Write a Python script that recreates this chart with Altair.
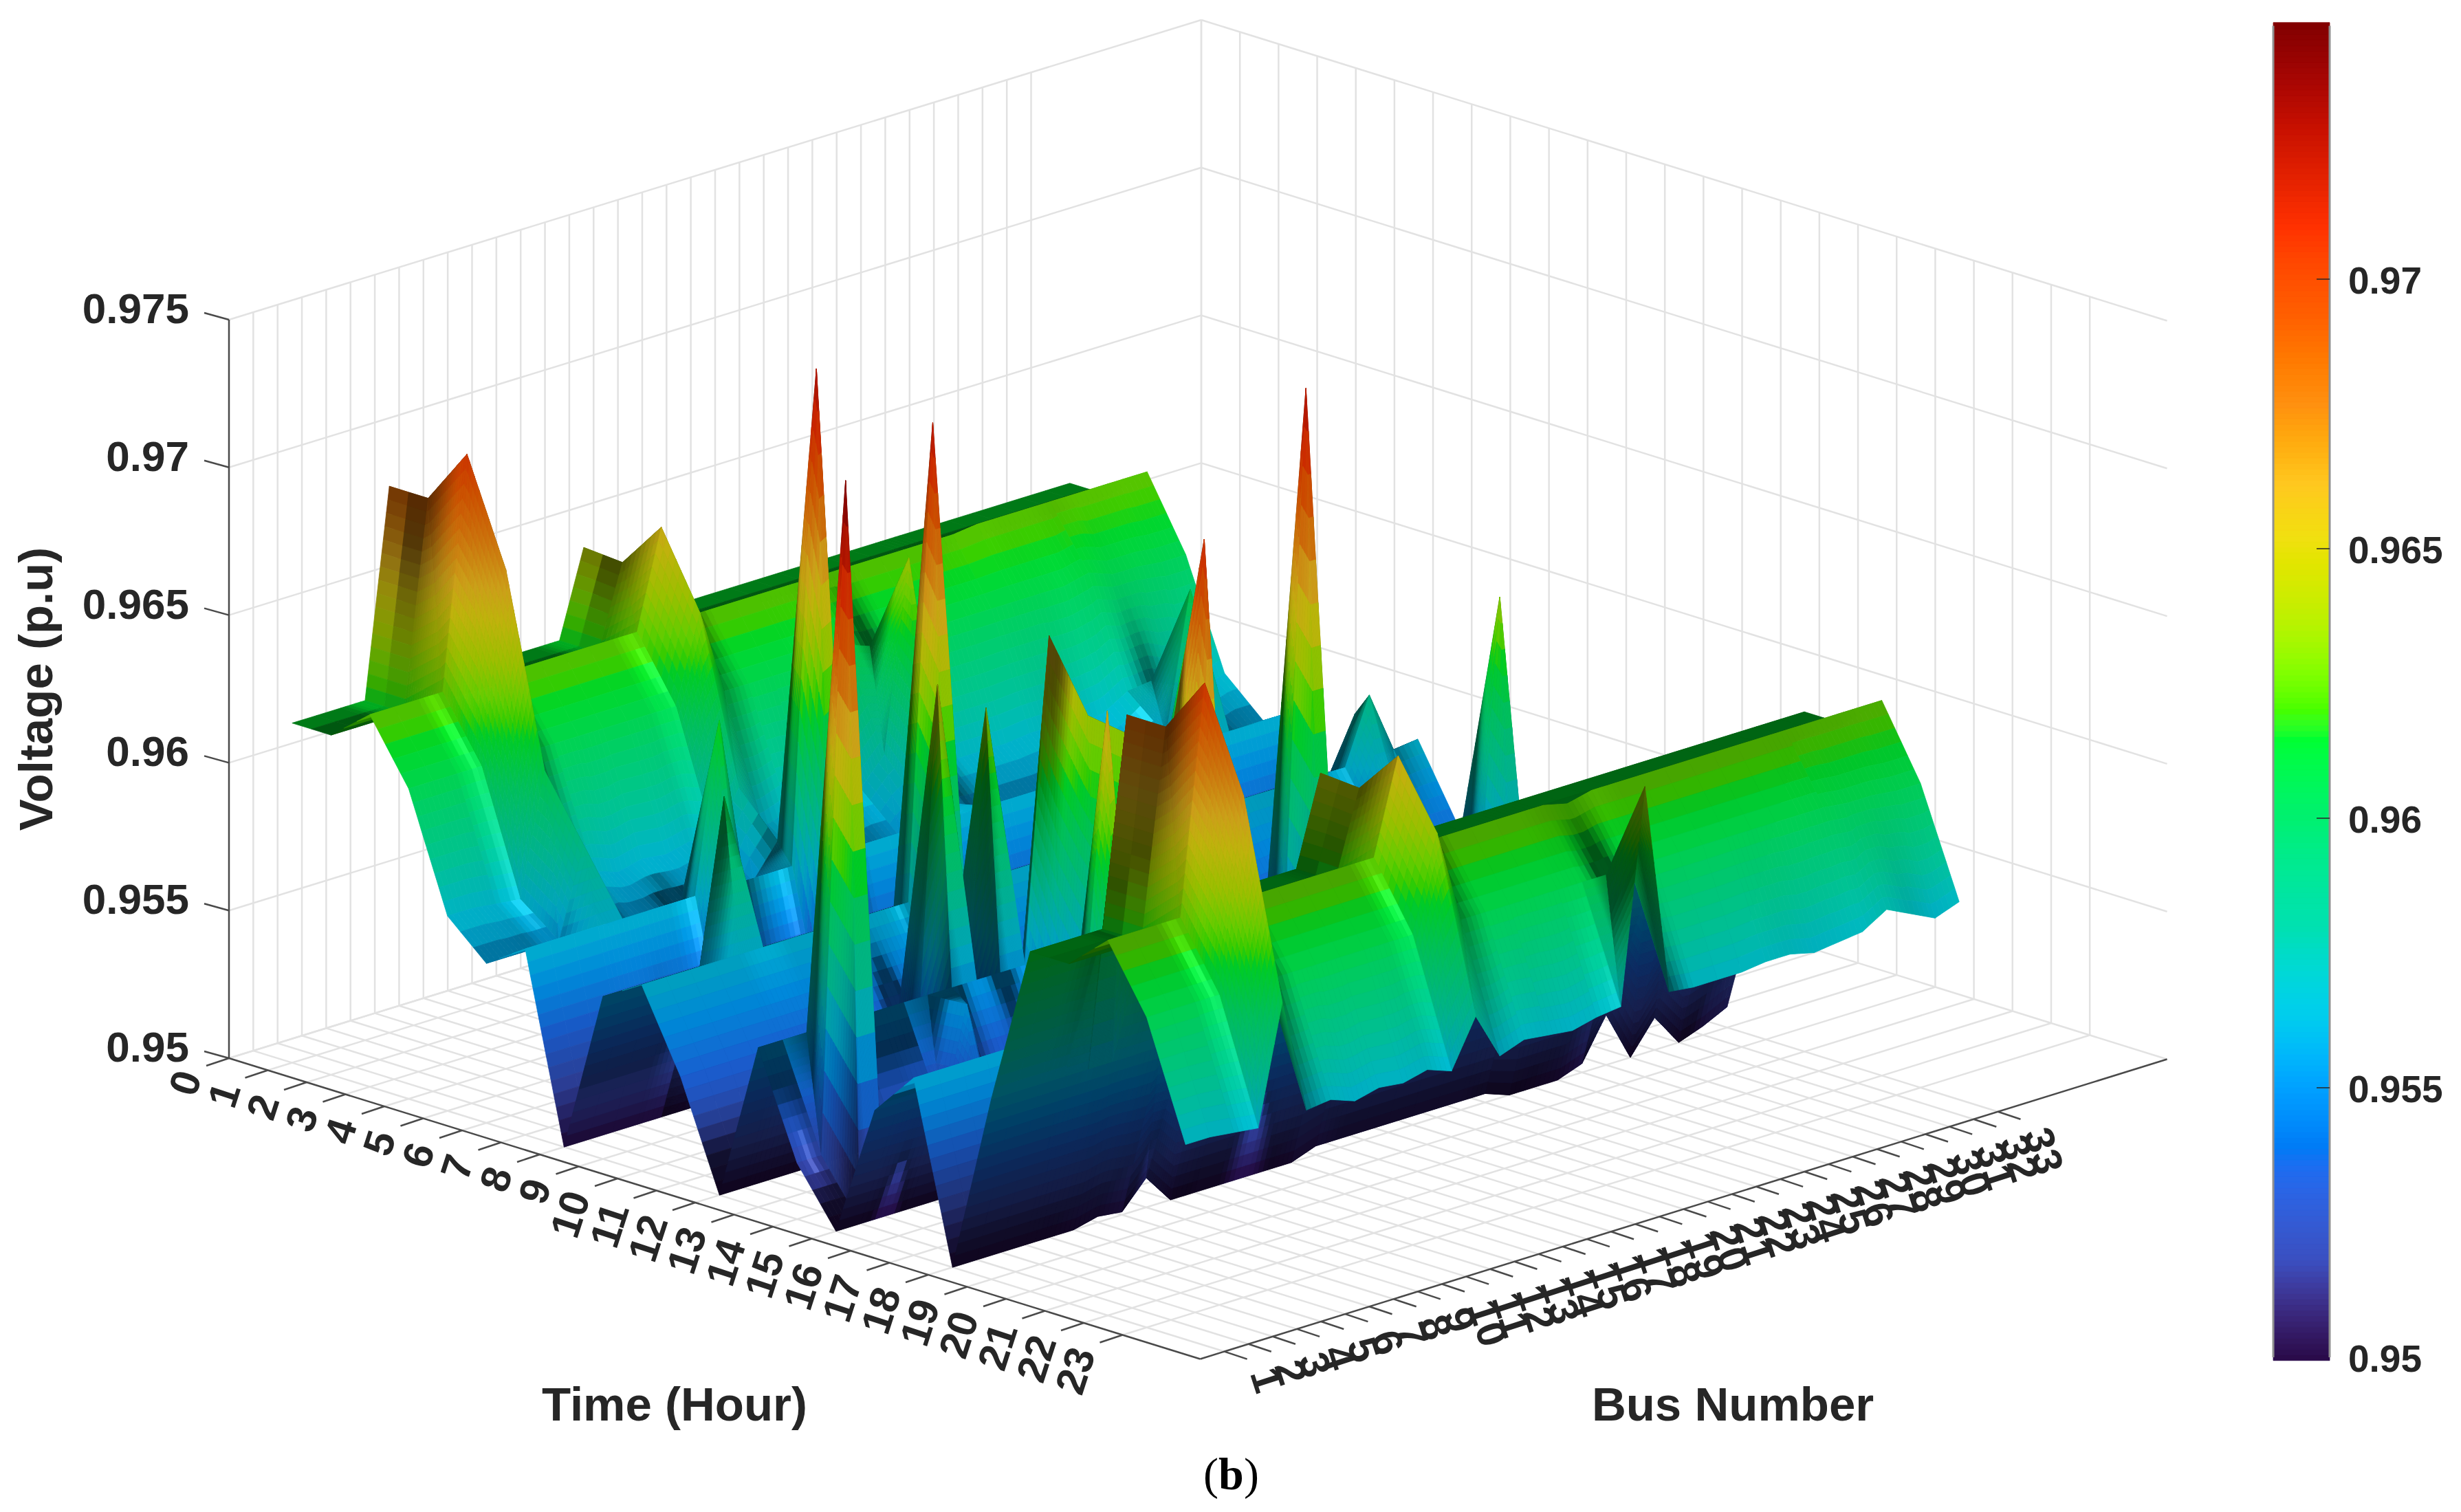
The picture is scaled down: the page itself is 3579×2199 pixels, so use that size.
import altair as alt
import numpy as np
import pandas as pd

alt.data_transformers.disable_max_rows()

# Voltage (p.u) per hour row (24 rows), bus 1..33 columns
V01 = [.9615,.9615,.9615,.9615,.9685,.9615,.9615,.9615,.9615,.9615,.9615,.9615,.9644,.9615,.9615,.9615,.9615,.9615,.9615,.9615,.9615,.9615,.9615,.9615,.9615,.9615,.9615,.9615,.9615,.9615,.9615,.9615,.9615]
V02 = [.9615,.9615,.9615,.9615,.9685,.9615,.9615,.9615,.9615,.9615,.9615,.9615,.9643,.9615,.9615,.9615,.9615,.9615,.9615,.9615,.9615,.9615,.9615,.9615,.9615,.9615,.9615,.9615,.9615,.9615,.9615,.9615,.9615]
V03 = [.9626,.9626,.9626,.9626,.9704,.9626,.9626,.9626,.9626,.9626,.9626,.9626,.9659,.9626,.9626,.9626,.9626,.9626,.9626,.9626,.9626,.9626,.9626,.9626,.9626,.9627,.9627,.9627,.9627,.9627,.9627,.9627,.9627]
V04 = [.9605,.9605,.9605,.9605,.9669,.9605,.9605,.9605,.9605,.9605,.9605,.9605,.9634,.9605,.9605,.9605,.9605,.9605,.9608,.9605,.9605,.9605,.9605,.9605,.9605,.9605,.9605,.9605,.9607,.9604,.9604,.9603,.9603]
V05 = [.9566,.9566,.9565,.9564,.9605,.9565,.9566,.9563,.9565,.9564,.9566,.9563,.9579,.9563,.9566,.9565,.9564,.9566,.9575,.9639,.9567,.9566,.9566,.9566,.9567,.9567,.9565,.9566,.9571,.9572,.9568,.9564,.9567]
V06 = [.9554,.9554,.9554,.9554,.9584,.9554,.9554,.9554,.9554,.9554,.9554,.9554,.9565,.9554,.9554,.9554,.9554,.9554,.9560,.9560,.9554,.9554,.9554,.9554,.9554,.9554,.9554,.9554,.9560,.9607,.9555,.9555,.9555]
V07 = [.9563,.9563,.9563,.9563,.9563,.9563,.9563,.9563,.9620,.9563,.9563,.9563,.9729,.9563,.9563,.9563,.9563,.9563,.9563,.9563,.9563,.9563,.9563,.9563,.9563,.9563,.9563,.9563,.9563,.9563,.9563,.9563,.9563]
V08 = [.9500,.9500,.9500,.9500,.9500,.9500,.9500,.9500,.9502,.9500,.9500,.9500,.9505,.9500,.9500,.9500,.9500,.9500,.9500,.9500,.9500,.9500,.9500,.9500,.9500,.9500,.9500,.9500,.9500,.9500,.9500,.9500,.9500]
V09 = [.9555,.9555,.9555,.9555,.9555,.9610,.9555,.9555,.9555,.9555,.9555,.9555,.9555,.9555,.9555,.9555,.9555,.9555,.9555,.9555,.9555,.9555,.9555,.9555,.9555,.9555,.9555,.9555,.9555,.9555,.9555,.9572,.9555]
V10 = [.9563,.9563,.9563,.9563,.9563,.9563,.9563,.9563,.9563,.9563,.9563,.9563,.9723,.9563,.9563,.9563,.9563,.9563,.9563,.9563,.9563,.9563,.9563,.9563,.9563,.9563,.9563,.9563,.9563,.9563,.9585,.9564,.9565]
V11 = [.9536,.9536,.9536,.9536,.9536,.9536,.9536,.9536,.9536,.9536,.9536,.9536,.9536,.9536,.9536,.9536,.9536,.9536,.9536,.9536,.9536,.9635,.9536,.9537,.9538,.9539,.9540,.9540,.9541,.9541,.9541,.9541,.9541]
V12 = [.9500,.9500,.9500,.9500,.9500,.9500,.9500,.9500,.9500,.9650,.9500,.9637,.9500,.9500,.9500,.9500,.9500,.9500,.9500,.9500,.9500,.9500,.9500,.9500,.9500,.9500,.9500,.9500,.9500,.9500,.9500,.9500,.9500]
V13 = [.9554,.9554,.9554,.9554,.9554,.9554,.9554,.9554,.9554,.9554,.9554,.9554,.9663,.9554,.9554,.9554,.9554,.9554,.9554,.9554,.9554,.9554,.9554,.9554,.9554,.9554,.9554,.9554,.9554,.9554,.9554,.9554,.9554]
V14 = [.9519,.9519,.9745,.9519,.9519,.9519,.9519,.9555,.9519,.9519,.9519,.9519,.9640,.9519,.9519,.9519,.9519,.9519,.9519,.9519,.9519,.9728,.9519,.9519,.9519,.9519,.9519,.9519,.9519,.9637,.9519,.9519,.9519]
V15 = [.9500,.9500,.9500,.9500,.9500,.9500,.9500,.9500,.9500,.9500,.9500,.9500,.9638,.9500,.9500,.9500,.9500,.9500,.9500,.9500,.9500,.9500,.9500,.9500,.9500,.9500,.9500,.9500,.9500,.9500,.9500,.9500,.9500]
V16 = [.9545,.9545,.9545,.9545,.9545,.9545,.9545,.9545,.9545,.9545,.9545,.9545,.9630,.9545,.9545,.9545,.9545,.9545,.9545,.9545,.9545,.9545,.9545,.9545,.9545,.9545,.9545,.9545,.9545,.9545,.9545,.9545,.9545]
V17 = [.9560,.9560,.9560,.9560,.9560,.9560,.9560,.9560,.9664,.9560,.9560,.9560,.9712,.9560,.9560,.9560,.9560,.9560,.9560,.9560,.9560,.9560,.9560,.9560,.9560,.9560,.9560,.9560,.9560,.9560,.9560,.9560,.9560]
V18 = [.9500,.9500,.9500,.9500,.9500,.9500,.9502,.9501,.9510,.9500,.9500,.9500,.9500,.9500,.9500,.9503,.9503,.9503,.9503,.9503,.9503,.9503,.9503,.9500,.9500,.9500,.9503,.9517,.9500,.9511,.9500,.9503,.9507]
V19 = [.9561,.9561,.9561,.9561,.9561,.9561,.9561,.9561,.9561,.9561,.9561,.9561,.9561,.9561,.9561,.9561,.9561,.9561,.9561,.9561,.9561,.9561,.9561,.9561,.9561,.9561,.9561,.9561,.9561,.9561,.9561,.9561,.9561]
V20 = [.9615,.9615,.9615,.9615,.9685,.9615,.9615,.9615,.9615,.9615,.9615,.9615,.9645,.9615,.9615,.9615,.9615,.9615,.9615,.9615,.9615,.9615,.9615,.9615,.9615,.9615,.9615,.9615,.9615,.9615,.9615,.9615,.9615]
V21 = [.9615,.9615,.9615,.9615,.9685,.9615,.9615,.9615,.9615,.9615,.9615,.9615,.9644,.9615,.9615,.9615,.9615,.9615,.9615,.9615,.9615,.9615,.9615,.9615,.9615,.9615,.9615,.9615,.9615,.9615,.9615,.9615,.9615]
V22 = [.9627,.9627,.9627,.9627,.9704,.9627,.9627,.9627,.9627,.9627,.9627,.9627,.9659,.9627,.9627,.9627,.9627,.9627,.9627,.9625,.9627,.9627,.9627,.9627,.9627,.9627,.9627,.9627,.9627,.9627,.9627,.9627,.9627]
V23 = [.9605,.9605,.9605,.9605,.9670,.9605,.9605,.9605,.9605,.9605,.9605,.9605,.9637,.9605,.9605,.9605,.9605,.9605,.9605,.9605,.9605,.9605,.9605,.9605,.9605,.9605,.9605,.9605,.9605,.9604,.9604,.9603,.9603]
V24 = [.9566,.9566,.9565,.9564,.9604,.9565,.9566,.9563,.9565,.9564,.9566,.9563,.9579,.9563,.9566,.9565,.9564,.9566,.9567,.9639,.9567,.9566,.9566,.9566,.9567,.9567,.9565,.9566,.9567,.9572,.9568,.9564,.9567]

ROWS = [V01,V02,V03,V04,V05,V06,V07,V08,V09,V10,V11,V12,V13,V14,V15,V16,V17,V18,V19,V20,V21,V22,V23,V24]

CMAP_Z = [.95,.9518,.9535,.955,.9563,.958,.96,.9615,.9620,.9627,.9638,.9652,.9662,.9677,.9693,.971,.9728,.9748]
CMAP_C = ["#2a0b4a","#3a4fc0","#1e6cf0","#00a0ff","#00ccee","#00e0b0","#00f070","#00ff30","#44ff00","#80ff00","#c0f000","#f0e010","#ffc820","#ff9010","#ff6000","#ff3000","#c81000","#800000"]

Z_TICKS = [0.95,0.955,0.96,0.965,0.97,0.975]
Z_LABELS = ["0.95","0.955","0.96","0.965","0.97","0.975"]
BAR_TICKS = [0.95,0.955,0.96,0.965,0.97]
BAR_LABELS = ["0.95","0.955","0.96","0.965","0.97"]

TXT = "#262626"
GRID = "#e2e2e2"
AXC = "#4a4a4a"

V = np.array(ROWS)
T = np.arange(1, 25)
B = np.arange(1, 34)

def px(t, b, z=0.95):
    return (333 + 56.5*t + (35.15+0.2*(25-t)/25)*b, 1539 + 17.5*t - 10.9*b - 42960*(z-0.95))

def hex2rgb(c):
    return [int(c[i:i+2], 16) for i in (1, 3, 5)]
CM = np.array([hex2rgb(c) for c in CMAP_C], float)

def cmap(z):
    return np.array([np.interp(z, CMAP_Z, CM[:, k]) for k in range(3)])

W = (V-0.95)/0.025
dX = np.gradient(W, 1/25, axis=0)
dY = np.gradient(W, 1/40, axis=1)
N = np.stack([-dX, -dY, np.ones_like(W)], axis=-1)
N /= np.linalg.norm(N, axis=-1, keepdims=True)
H = np.array([0.60, -0.70, 0.39]); H /= np.linalg.norm(H)

def shade(z, n, t, steep):
    n = n/np.linalg.norm(n)
    L = np.array([0.80, -0.50, 0.36-0.012*t]); L = L/np.linalg.norm(L)
    d = float(np.dot(n, L))
    I = 0.33 + 0.62*max(d, 0) + 0.10*max(-d, 0)
    if steep:
        c = cmap(z)*min(I, 0.80)
    else:
        s = max(float(np.dot(n, H)), 0)**40*0.15
        c = cmap(z)*min(I, 0.92) + 255*s
    c = np.clip(c, 0, 255).astype(int)
    return "#%02x%02x%02x" % tuple(c)

def tri_z(z00, z01, z10, z11, s, u):
    # each grid cell is split into two planes along the (1,0)-(0,1) diagonal
    if s+u <= 1+1e-9:
        return z00 + s*(z10-z00) + u*(z01-z00)
    return z11 + (1-s)*(z01-z11) + (1-u)*(z10-z11)

def face_normal(qz, s, u):
    z00, z01, z10, z11 = qz
    if s+u <= 1+1e-9:
        ds, du = z10-z00, z01-z00
    else:
        ds, du = z11-z01, z11-z10
    n = np.array([-(ds/0.025)*25, -(du/0.025)*40, 1.0])
    return n/np.linalg.norm(n)

features = []
STEP = 0.00045
def add(i, j, corners, sm, um, qz, mix):
    poly = []
    for s, u in corners:
        x, y = px(T[i]+s, B[j]+u, tri_z(*qz, s, u))
        poly.append([round(float(x-8), 1), round(float(y-8), 1)])
    poly.append(poly[0])
    nn = (1-sm)*((1-um)*N[i, j]+um*N[i, j+1]) + sm*((1-um)*N[i+1, j]+um*N[i+1, j+1])
    nn = nn/np.linalg.norm(nn)
    if mix > 0:
        nn = (1-mix)*nn + mix*face_normal(qz, sm, um)
    features.append({"type": "Feature",
                     "geometry": {"type": "Polygon", "coordinates": [poly]},
                     "properties": {"c": shade(tri_z(*qz, sm, um), nn, T[i]+sm, mix > 0)}})

for i in range(len(T)-1):
    for j in range(len(B)-2, -1, -1):
        qz = (V[i, j], V[i, j+1], V[i+1, j], V[i+1, j+1])
        z00, z01, z10, z11 = qz
        dt = max(abs(z10-z00), abs(z11-z01))
        db = max(abs(z01-z00), abs(z11-z10))
        nt = int(np.clip(np.ceil(dt/STEP), 2, 20))
        nb = int(np.clip(np.ceil(db/STEP), 1, 20))
        square = db > 0.0008 and dt > 0.0002
        if square:
            nt = nb = min(max(nt, nb), 16)
        nspread = max(np.abs(N[i, j]-N[i, j+1]).max(), np.abs(N[i+1, j]-N[i+1, j+1]).max())
        if nspread > 0.02 and not square:
            nb = max(nb, 5)
        mix = 0.5 if square else 0.0
        ss = np.linspace(0, 1, nt+1)
        uu = np.linspace(0, 1, nb+1)
        for si in range(nt):
            for ui in range(nb-1, -1, -1):
                s0, s1 = ss[si], ss[si+1]
                u0, u1 = uu[ui], uu[ui+1]
                if square and si+ui == nt-1:
                    add(i, j, [(s0, u0), (s0, u1), (s1, u0)], (2*s0+s1)/3, (2*u0+u1)/3, qz, mix)
                    add(i, j, [(s1, u1), (s0, u1), (s1, u0)], (s0+2*s1)/3, (u0+2*u1)/3, qz, mix)
                else:
                    add(i, j, [(s0, u0), (s0, u1), (s1, u1), (s1, u0)], (s0+s1)/2, (u0+u1)/2, qz, mix)
print(len(features))

xs = alt.Scale(domain=[8, 3571], nice=False, zero=False)
ys = alt.Scale(domain=[2191, 8], nice=False, zero=False)

def rules(segs, color, width):
    df = pd.DataFrame(segs, columns=["x", "y", "x2", "y2"])
    return alt.Chart(df).mark_rule(color=color, strokeWidth=width).encode(
        x=alt.X("x:Q", scale=xs, axis=None), y=alt.Y("y:Q", scale=ys, axis=None),
        x2="x2:Q", y2="y2:Q")

def seg(p, q):
    return [p[0], p[1], q[0], q[1]]

TMAX, BMAX = 25, 40
grid = []
for b in range(1, 34):
    grid.append(seg(px(0, b), px(TMAX, b)))
    grid.append(seg(px(0, b), px(0, b, 0.975)))
for t in range(0, 24):
    grid.append(seg(px(t, 0), px(t, BMAX)))
    grid.append(seg(px(t, BMAX), px(t, BMAX, 0.975)))
for z in Z_TICKS:
    grid.append(seg(px(0, 0, z), px(0, BMAX, z)))
    grid.append(seg(px(0, BMAX, z), px(TMAX, BMAX, z)))
grid.append(seg(px(0, BMAX), px(0, BMAX, 0.975)))

axes = [seg(px(0, 0), px(TMAX, 0)), seg(px(TMAX, 0), px(TMAX, BMAX)), seg(px(0, 0), px(0, 0, 0.975))]
for t in range(0, 24):
    p = px(t, 0)
    axes.append(seg(p, (p[0]-33, p[1]+11)))
for b in range(1, 34):
    p = px(TMAX, b)
    axes.append(seg(p, (p[0]+33, p[1]+11)))
for z in Z_TICKS:
    p = px(0, 0, z)
    axes.append(seg(p, (p[0]-36, p[1]-10)))

surface = alt.Chart(alt.Data(values=features)).mark_geoshape(strokeWidth=0.8).encode(
    fill=alt.Fill("properties.c:N", scale=None, legend=None),
    stroke=alt.Stroke("properties.c:N", scale=None, legend=None),
).project(type="identity", scale=1, translate=[0, 0])

def texts(rows, angle=0, align="center", baseline="middle", size=62, font="Liberation Sans", weight="bold", color=TXT):
    df = pd.DataFrame(rows, columns=["x", "y", "s"])
    return alt.Chart(df).mark_text(angle=angle, align=align, baseline=baseline, fontSize=size,
                                   font=font, fontWeight=weight, color=color).encode(
        x=alt.X("x:Q", scale=xs, axis=None), y=alt.Y("y:Q", scale=ys, axis=None), text="s:N")

ztxt = texts([(275, px(0, 0, z)[1]-14, s) for z, s in zip(Z_TICKS, Z_LABELS)], align="right")
ttxt = texts([(px(t, 0)[0]-56, px(t, 0)[1]+21, str(t)) for t in range(24)], angle=288, align="right", size=60)
btxt = texts([(px(TMAX, b)[0]+54, px(TMAX, b)[1]+26, str(b)) for b in range(1, 34)], angle=72, align="left", size=60)
titles = texts([(981, 2045, "Time (Hour)"), (2520, 2045, "Bus Number")], size=69)
ylab = texts([(55, 1002, "Voltage (p.u)")], angle=270, size=69)
sub1 = texts([(1750, 2146, "("), (1809, 2146, ")")], align="left", size=66, font="Liberation Serif", weight="normal", color="#000000")
sub2 = texts([(1772, 2146, "b")], align="left", size=66, font="Liberation Serif", color="#000000")

BAR_L, BAR_R, BAR_B = 3306, 3388, 1974
def bar_y(z):
    return BAR_B-(z-0.95)/0.005*392
zz = np.linspace(0.95, 0.9747, 240)
bar_df = pd.DataFrame({"z": zz, "y": bar_y(zz-0.00006), "y2": bar_y(zz+0.00006), "x": BAR_L, "x2": BAR_R})
bar = alt.Chart(bar_df).mark_rect(strokeWidth=0.8).encode(
    x=alt.X("x:Q", scale=xs, axis=None), x2="x2:Q",
    y=alt.Y("y:Q", scale=ys, axis=None), y2="y2:Q",
    fill=alt.Fill("z:Q", scale=alt.Scale(domain=CMAP_Z, range=CMAP_C), legend=None),
    stroke=alt.Stroke("z:Q", scale=alt.Scale(domain=CMAP_Z, range=CMAP_C), legend=None))
frame = rules([seg((BAR_L, BAR_B), (BAR_L, bar_y(0.9747))), seg((BAR_R, BAR_B), (BAR_R, bar_y(0.9747)))], "#8f8f8f", 3)
bar_ticks = rules([seg((BAR_R-19, bar_y(z)), (BAR_R, bar_y(z))) for z in BAR_TICKS[1:]], "#262626", 1.5)
bar_txt = texts([(3415, bar_y(z)+4, s) for z, s in zip(BAR_TICKS, BAR_LABELS)], align="left", size=55)

chart = alt.layer(
    rules(grid, GRID, 2.5), surface, rules(axes, AXC, 2.5),
    ztxt, ttxt, btxt, titles, ylab, sub1, sub2, bar, frame, bar_ticks, bar_txt
).resolve_scale(fill="independent", stroke="independent").properties(
    width=3563, height=2183, padding=0, autosize=alt.AutoSizeParams(type="none")
).configure_view(stroke=None)

chart.save("out.html", embed_options={"renderer": "svg", "actions": False})
